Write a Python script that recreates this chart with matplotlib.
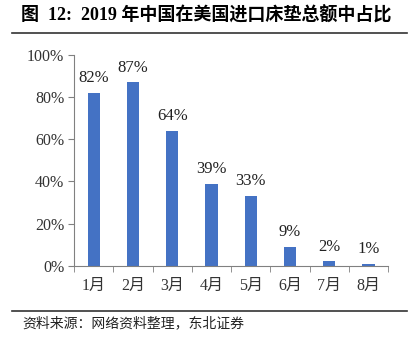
import matplotlib
matplotlib.use("Agg")
import matplotlib.pyplot as plt
from matplotlib.ticker import FuncFormatter

months = ["1月", "2月", "3月", "4月", "5月", "6月", "7月", "8月"]
share = [82, 87, 64, 39, 33, 9, 2, 1]
yticks = [0, 20, 40, 60, 80, 100]

title = "图  12:  2019 年中国在美国进口床垫总额中占比"
source = "资料来源：网络资料整理，东北证券"

serif_cjk = ["Liberation Serif", "Noto Sans CJK SC"]
bar_color = "#4472C4"
axis_color = "#808080"

fig = plt.figure(figsize=(4.09, 3.43), dpi=100)
ax = fig.add_axes([0.181, 0.2254, 0.768, 0.614])

x = range(len(months))
bars = ax.bar(x, share, width=0.31, color=bar_color, zorder=2)
for xi, v in zip(x, share):
    ax.annotate(f"{v}%", (xi, v), xytext=(0, 5), textcoords="offset points",
                ha="center", va="bottom", fontsize=12, family=serif_cjk,
                color="#222222")

ax.set_xlim(-0.5, len(months) - 0.5)
ax.set_ylim(0, 100)
ax.set_yticks(yticks)
ax.yaxis.set_major_formatter(FuncFormatter(lambda v, _: f"{v:.0f}%"))
ax.set_xticks(x)
ax.set_xticklabels(months)
ax.set_xticks([i - 0.5 for i in range(len(months) + 1)], minor=True)
ax.tick_params(axis="x", which="major", length=0, pad=9)
ax.tick_params(axis="x", which="minor", length=4, color=axis_color, direction="out")
ax.tick_params(axis="y", length=4, color=axis_color, pad=3)
for lab in ax.get_xticklabels() + ax.get_yticklabels():
    lab.set_family(serif_cjk)
    lab.set_fontsize(11.5)
    lab.set_color("#333333")

for side in ["top", "right"]:
    ax.spines[side].set_visible(False)
for side in ["left", "bottom"]:
    ax.spines[side].set_color(axis_color)
    ax.spines[side].set_linewidth(0.8)

fig.text(0.052, 0.955, title, ha="left", va="center", fontsize=13,
         fontweight="bold", family=serif_cjk)
fig.add_artist(plt.Line2D([0.03, 0.995], [0.905, 0.905], color="#333333", lw=1.2))
fig.add_artist(plt.Line2D([0.03, 0.995], [0.094, 0.094], color="#333333", lw=1.2))
fig.text(0.055, 0.058, source, ha="left", va="center", fontsize=10,
         family=serif_cjk, color="#222222")

fig.savefig("out.png", dpi=100)
